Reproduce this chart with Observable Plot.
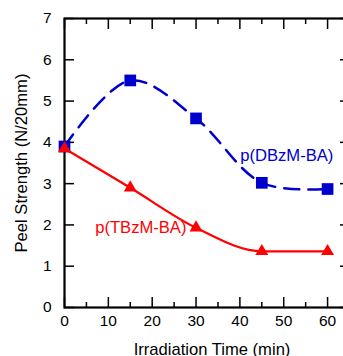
<!DOCTYPE html>
<html>
<head>
<meta charset="utf-8">
<script src="https://cdn.jsdelivr.net/npm/d3@7"></script>
<script src="https://cdn.jsdelivr.net/npm/@observablehq/plot@0.6"></script>
<style>
  html, body { margin: 0; padding: 0; background: #fff; overflow: hidden; }
  svg { display: block; max-width: none !important; }
</style>
</head>
<body>
<div id="chart"></div>
<script>
const times = [0, 15, 30, 45, 60];
const dbzm = [3.9, 5.5, 4.58, 3.02, 2.87];
const tbzm = [3.85, 2.9, 1.93, 1.36, 1.36];
const xMajorTicks = [0, 10, 20, 30, 40, 50, 60];
const xMinorTicks = [5, 15, 25, 35, 45, 55, 65];
const yTicks = [0, 1, 2, 3, 4, 5, 6, 7];
const seriesLabels = [
  {name: "p(DBzM-BA)", x: 50.7, y: 3.68, color: "#0000cc"},
  {name: "p(TBzM-BA)", x: 17.4, y: 1.94, color: "#ff0000"}
];
const xTitle = "Irradiation Time (min)";
const yTitle = "Peel Strength (N/20mm)";

const blue = times.map((t, i) => ({t, v: dbzm[i]}));
const red = times.map((t, i) => ({t, v: tbzm[i]}));

const font = "Liberation Sans, Arial, Helvetica, sans-serif";

const chart = Plot.plot({
  width: 350,
  height: 356,
  marginLeft: 64,
  marginRight: 1,
  marginTop: 18,
  marginBottom: 49,
  style: {fontFamily: font, fontSize: "15.5px", color: "#000", background: "#fff", maxWidth: "none"},
  x: {domain: [0, 65], axis: null},
  y: {domain: [0, 7], axis: null},
  marks: [
    // ticks (inward)
    Plot.axisX(xMajorTicks, {anchor: "bottom", tickSize: -10, text: null, strokeWidth: 1.5}),
    Plot.axisX(xMajorTicks, {anchor: "top", tickSize: -10, text: null, strokeWidth: 1.5}),
    Plot.axisX(xMinorTicks, {anchor: "bottom", tickSize: -5, text: null, strokeWidth: 1.5}),
    Plot.axisX(xMinorTicks, {anchor: "top", tickSize: -5, text: null, strokeWidth: 1.5}),
    Plot.axisY(yTicks, {anchor: "left", tickSize: -10, text: null, strokeWidth: 1.5}),
    Plot.axisY(yTicks, {anchor: "right", tickSize: -10, text: null, strokeWidth: 1.5}),
    // tick labels
    Plot.axisX(xMajorTicks, {anchor: "bottom", tickSize: 0, tickPadding: 7, label: null, fontSize: 15.5}),
    Plot.axisY(yTicks, {anchor: "left", tickSize: 0, tickPadding: 13, label: null, fontSize: 15.5}),
    Plot.frame({strokeWidth: 2.2}),
    // curves
    Plot.line(blue, {x: "t", y: "v", curve: "catmull-rom", stroke: "#0000cc", strokeWidth: 2.5, strokeDasharray: "15,9"}),
    Plot.line(red, {x: "t", y: "v", curve: "monotone-x", stroke: "#ff0000", strokeWidth: 2.2}),
    Plot.dot(blue, {x: "t", y: "v", symbol: "square", r: 6.6, fill: "#0000cc", stroke: "none"}),
    Plot.dot(red, {x: "t", y: "v", symbol: "triangle", r: 4.8, fill: "#ff0000", stroke: "none"}),
    // series labels
    Plot.text(seriesLabels, {x: "x", y: "y", text: "name", fill: "color", fontSize: 16.6}),
    // axis titles
    Plot.text([yTitle], {frameAnchor: "left", textAnchor: "middle", lineAnchor: "middle", rotate: -90, dx: -43, fontSize: 16.6}),
    Plot.text([xTitle], {frameAnchor: "bottom", textAnchor: "middle", lineAnchor: "middle", dx: 5, dy: 42, fontSize: 16.6})
  ]
});
document.getElementById("chart").appendChild(chart);
</script>
</body>
</html>
